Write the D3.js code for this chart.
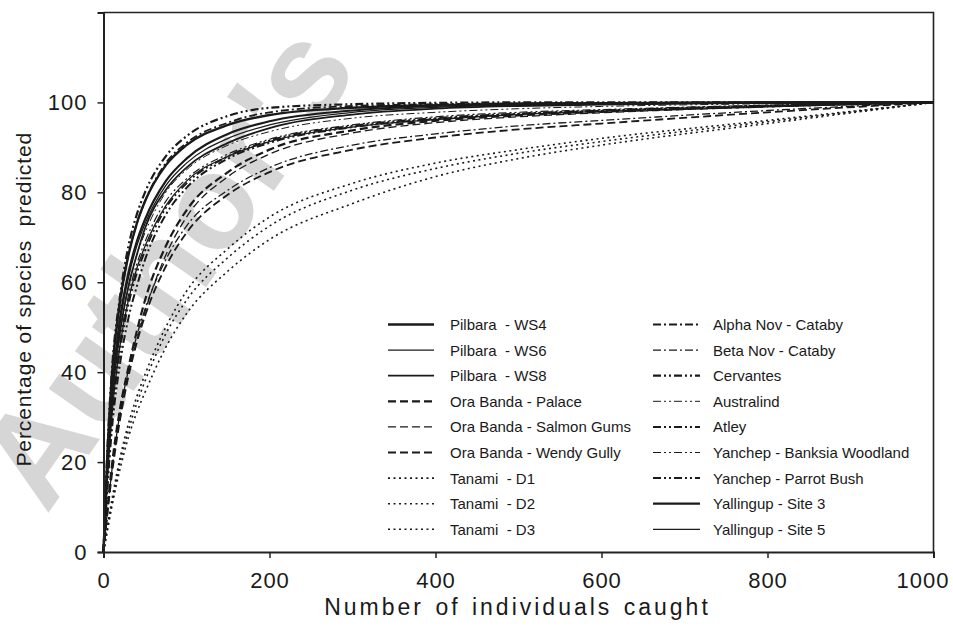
<!DOCTYPE html>
<html>
<head>
<meta charset="utf-8">
<script src="https://cdn.jsdelivr.net/npm/d3@7"></script>
<style>
  html, body { margin: 0; padding: 0; background: #fff; }
  svg text { font-family: "Liberation Sans", Arial, Helvetica, sans-serif; fill: #1a1a1a; }
</style>
</head>
<body>
<div id="chart"></div>
<script>
// x positions (individuals caught) shared by every curve
const caught = [0, 5, 10, 20, 30, 40, 50, 75, 100, 150, 200, 300, 400, 500, 600, 800, 1000];

// percentage of species predicted, one array per site
const pilbaraWS4   = [0, 23, 39, 56, 66, 73, 78, 86, 90.5, 95, 97.2, 98.8, 99.4, 99.7, 99.8, 100, 100];
const pilbaraWS6   = [0, 20, 34, 51, 61, 68, 73, 81.5, 86.5, 92, 95, 97.8, 98.9, 99.4, 99.7, 99.9, 100];
const pilbaraWS8   = [0, 19, 33, 49, 59, 66, 72, 80.5, 85.5, 91, 94.3, 97.3, 98.6, 99.2, 99.5, 99.9, 100];
const oraPalace    = [0, 10, 19, 32, 41, 49, 56, 68, 76, 84.5, 89.5, 93.8, 95.9, 97.1, 97.9, 99.1, 100];
const oraSalmon    = [0, 9.5, 18, 30, 39.5, 47, 53.5, 66, 74.5, 83.5, 88.5, 93.2, 95.5, 96.8, 97.7, 99, 100];
const oraWendy     = [0, 9, 17, 29.5, 39, 46.5, 52.5, 63.5, 71, 79.5, 84.5, 89.5, 92.2, 94, 95.3, 97.8, 100];
const tanamiD1     = [0, 6, 11.5, 21, 28.5, 34.5, 39.5, 50, 58, 67.5, 74.5, 82, 86.5, 89.5, 92, 96, 100];
const tanamiD2     = [0, 5.5, 10.5, 20, 27, 33, 38, 48.5, 56, 65.5, 72.5, 80.5, 85.3, 88.7, 91.3, 95.7, 100];
const tanamiD3     = [0, 5, 10, 18.5, 25.5, 31, 35.5, 45.5, 53, 62.5, 69.5, 77.5, 83.5, 87.5, 90.5, 95.3, 100];
const alphaNov     = [0, 22, 38, 55, 66, 73, 78, 86.5, 91, 95.5, 97.8, 99.2, 99.6, 99.8, 99.9, 100, 100];
const betaNov      = [0, 9.5, 18, 31, 40.5, 48, 54, 65, 72.5, 80.5, 85.5, 90.5, 93, 94.8, 96, 98.2, 100];
const cervantes    = [0, 24, 40, 57, 68, 75, 80, 88, 92.5, 97, 98.8, 99.6, 99.9, 100, 100, 100, 100];
const australind   = [0, 19, 33, 49, 59, 66, 71, 80, 85, 90.5, 93.5, 96.5, 97.8, 98.6, 99.1, 99.7, 100];
const atley        = [0, 16, 29, 45, 55, 62, 67, 76.5, 82, 88, 91.5, 94.8, 96.5, 97.5, 98.2, 99.3, 100];
const yanBanksia   = [0, 18, 31, 47, 57, 64, 69, 78, 83, 88.5, 91.8, 95, 96.8, 97.8, 98.4, 99.4, 100];
const yanParrot    = [0, 15, 27, 42, 52, 59, 65, 75, 81, 87.5, 91, 94.5, 96.3, 97.4, 98.1, 99.2, 100];
const yallingup3   = [0, 21, 35, 52, 62, 69, 74, 82.5, 87.5, 93, 95.8, 98.2, 99.2, 99.6, 99.8, 100, 100];
const yallingup5   = [0, 17, 30, 46, 56, 63, 68, 77, 82.5, 88, 91.3, 94.5, 96.2, 97.3, 98, 99.2, 100];

const siteNames = [
  "Pilbara  - WS4", "Pilbara  - WS6", "Pilbara  - WS8",
  "Ora Banda - Palace", "Ora Banda - Salmon Gums", "Ora Banda - Wendy Gully",
  "Tanami  - D1", "Tanami  - D2", "Tanami  - D3",
  "Alpha Nov - Cataby", "Beta Nov - Cataby", "Cervantes", "Australind", "Atley",
  "Yanchep - Banksia Woodland", "Yanchep - Parrot Bush",
  "Yallingup - Site 3", "Yallingup - Site 5"
];
const siteValues = [
  pilbaraWS4, pilbaraWS6, pilbaraWS8, oraPalace, oraSalmon, oraWendy,
  tanamiD1, tanamiD2, tanamiD3, alphaNov, betaNov, cervantes, australind, atley,
  yanBanksia, yanParrot, yallingup3, yallingup5
];

const xTicks = [0, 200, 400, 600, 800, 1000];
const yTicks = [0, 20, 40, 60, 80, 100];

// line styles: [stroke width, dash pattern]
const SOLID = null, DASH = "8,4", DOT = "2,3.5", DASHDOT = "8,3,2,3", DASHDOTDOT = "8,3,2,3,2,3";
const styles = [
  [2.4, SOLID], [1.3, SOLID], [1.8, SOLID],
  [2.2, DASH], [1.3, DASH], [1.8, DASH],
  [1.6, DOT], [1.6, DOT], [1.6, DOT],
  [1.8, DASHDOT], [1.3, DASHDOT], [2.2, DASHDOTDOT], [1.0, DASHDOTDOT], [2.0, DASHDOTDOT],
  [1.2, DASHDOTDOT], [2.0, DASHDOTDOT],
  [2.2, SOLID], [1.3, SOLID]
];

const W = 953, H = 626;
const margin = {top: 12.5, right: 19.5, bottom: 74, left: 103.5};
const width = W - margin.left - margin.right,
      height = H - margin.top - margin.bottom;

const root = d3.select("#chart").append("svg")
  .attr("width", W).attr("height", H);

// watermark
root.append("text")
  .attr("transform", "translate(203,292) rotate(-55)")
  .attr("text-anchor", "middle")
  .style("font-size", "134px")
  .style("font-weight", "bold")
  .style("fill", "#d6d6d6")
  .text("Author's");

const svg = root.append("g")
  .attr("transform", `translate(${margin.left},${margin.top})`);

const x = d3.scaleLinear().domain([0, 1000]).range([0, width]);
const y = d3.scaleLinear().domain([0, 120]).range([height, 0]);

// frame top/right
svg.append("path")
  .attr("d", `M0,0H${width}V${height}`)
  .attr("fill", "none")
  .attr("stroke", "#222")
  .attr("stroke-width", 1.6);

const line = d3.line()
  .x((d, i) => x(caught[i]))
  .y(d => y(d))
  .curve(d3.curveMonotoneX);

svg.selectAll(".curve")
  .data(siteValues)
  .enter()
  .append("path")
    .attr("class", "curve")
    .attr("d", d => line(d))
    .attr("fill", "none")
    .attr("stroke", "#1a1a1a")
    .attr("stroke-width", (d, i) => styles[i][0])
    .attr("stroke-dasharray", (d, i) => styles[i][1]);

// axes
const xAxis = svg.append("g")
  .attr("transform", `translate(0,${height})`)
  .call(d3.axisBottom(x).tickValues(xTicks).tickFormat(d3.format("d")).tickSize(6).tickPadding(14));
const yAxis = svg.append("g")
  .call(d3.axisLeft(y).tickValues(yTicks).tickFormat(d3.format("d")).tickSize(6).tickPadding(10));

[xAxis, yAxis].forEach(a => {
  a.select(".domain").attr("stroke", "#222").attr("stroke-width", 2);
  a.selectAll(".tick line").attr("stroke", "#222").attr("stroke-width", 1.5);
  a.selectAll("text")
    .style("font-size", "22px")
    .style("letter-spacing", "1px")
    .attr("fill", "#1a1a1a");
});
// last label pulled in so it stays on the page
xAxis.selectAll(".tick text").filter(d => d === 1000).attr("dx", -11);

// axis titles
svg.append("text")
  .attr("x", width / 2 - 1)
  .attr("y", height + 63)
  .attr("text-anchor", "middle")
  .style("font-size", "23px")
  .style("letter-spacing", "3px")
  .style("word-spacing", "2px")
  .text("Number of individuals caught");

svg.append("text")
  .attr("transform", "rotate(-90)")
  .attr("x", -(height / 2) - 17)
  .attr("y", -margin.left + 31)
  .attr("text-anchor", "middle")
  .style("font-size", "21px")
  .style("letter-spacing", "0.9px")
  .style("white-space", "pre")
  .text("Percentage of species  predicted");

// legend, two columns
const legendCols = [
  {lineX: 388, textX: 450, len: 46},
  {lineX: 653, textX: 713, len: 47}
];
const col = i => legendCols[i < 9 ? 0 : 1];
const legend = root.selectAll(".legend")
  .data(siteNames)
  .enter().append("g")
  .attr("class", "legend")
  .attr("transform", (d, i) => `translate(0,${324.5 + (i % 9) * 25.6})`);

legend.append("line")
  .attr("x1", (d, i) => col(i).lineX)
  .attr("x2", (d, i) => col(i).lineX + col(i).len)
  .attr("stroke", "#1a1a1a")
  .attr("stroke-width", (d, i) => styles[i][0])
  .attr("stroke-dasharray", (d, i) => styles[i][1]);

legend.append("text")
  .attr("x", (d, i) => col(i).textX)
  .attr("dy", "0.36em")
  .style("font-size", "15px")
  .style("white-space", "pre")
  .text(d => d);
</script>
</body>
</html>
